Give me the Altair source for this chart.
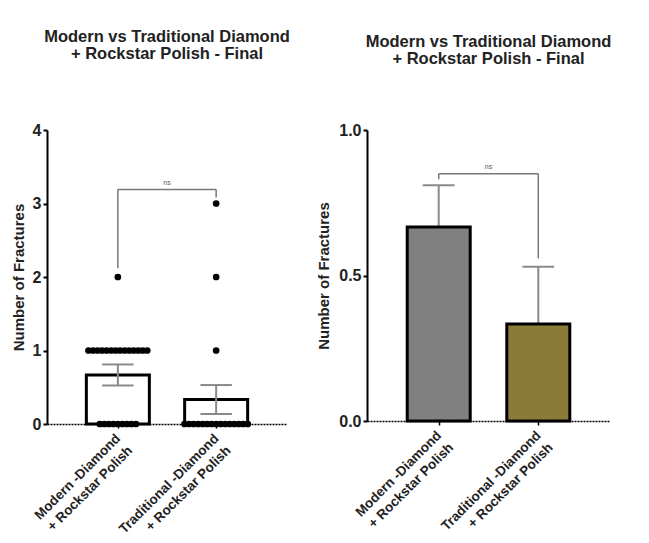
import altair as alt
import pandas as pd

# ---- data ----
group_line1 = ["Modern -Diamond", "Traditional -Diamond"]
group_line2 = ["+ Rockstar Polish", "+ Rockstar Polish"]
modern_counts = [0, 0, 0, 0, 0, 0, 0, 0, 0,
                 1, 1, 1, 1, 1, 1, 1, 1, 1, 1, 1, 1, 1, 1,
                 2]
trad_counts = [0, 0, 0, 0, 0, 0, 0, 0, 0, 0, 0, 0, 0, 0, 0,
               1, 2, 3]
means = [0.667, 0.333]
sems = [0.143, 0.197]
bar_colors_right = ["#808080", "#8a7b38"]
bracket_left = [3.19, 2.12, 3.08]     # top, left leg end, right leg end
bracket_right = [0.85, 0.831, 0.559]
sig_label = "ns"
title_lines = ["Modern vs Traditional Diamond", "+ Rockstar Polish - Final"]
y_title = "Number of Fractures"

# ---- derived tables ----
pos = [1, 2]
bars = pd.DataFrame({
    "pos": pos, "mean": means, "sem": sems, "color": bar_colors_right,
})
bars["lo"] = bars["mean"] - bars["sem"]
bars["hi"] = bars["mean"] + bars["sem"]
bars["cl"] = bars["pos"] - 0.16
bars["cr"] = bars["pos"] + 0.16

spacing = 0.046
rows = []
for p, counts in zip(pos, [modern_counts, trad_counts]):
    for v in sorted(set(counts)):
        k = counts.count(v)
        for i in range(k):
            rows.append({"x": p + (i - (k - 1) / 2) * spacing, "y": v})
dots = pd.DataFrame(rows)

label_expr = ("datum.value == 1 ? ['%s', '%s'] : ['%s', '%s']"
              % (group_line1[0], group_line2[0], group_line1[1], group_line2[1]))

FONT = "Liberation Sans"
XDOM = [0.33, 2.67]


def x_enc(field, axis=True):
    if axis:
        return alt.X(f"{field}:Q", scale=alt.Scale(domain=XDOM, nice=False, zero=False),
                     axis=alt.Axis(values=pos, labelExpr=label_expr, labelAngle=-45,
                                   labelAlign="right", labelBaseline="middle",
                                   labelFontSize=13.5, labelFontWeight="bold",
                                   labelLineHeight=17,
                                   labelColor="#222", labelPadding=8,
                                   domainDash=[2, 1], domainColor="#000", domainWidth=1.5,
                                   tickColor="#000", tickSize=4, tickWidth=1.5,
                                   grid=False, title=None, labelFont=FONT))
    return alt.X(f"{field}:Q", scale=alt.Scale(domain=XDOM, nice=False, zero=False))


def y_axis(values, fmt, dom, tpad):
    return alt.Scale(domain=dom, nice=False), alt.Axis(
        values=values, format=fmt, title=y_title, titleFont=FONT, titleFontSize=15,
        titleFontWeight="bold", titleColor="#222", titlePadding=tpad,
        labelFont=FONT, labelFontSize=16,
        labelFontWeight="bold", labelColor="#222", domainColor="#000", domainWidth=2,
        tickColor="#000", tickWidth=2, tickSize=4, labelPadding=2, grid=False)


def bracket_layers(b):
    top, l_end, r_end = b
    br = pd.DataFrame({"x": [1, 1, 2], "x2": [2, 1, 2],
                       "y": [top, top, top], "y2": [top, l_end, r_end]})
    rule = alt.Chart(br).mark_rule(color="#777", strokeWidth=1.5).encode(
        x=alt.X("x:Q", scale=alt.Scale(domain=XDOM, nice=False, zero=False)),
        x2="x2:Q", y="y:Q", y2="y2:Q")
    txt = alt.Chart(pd.DataFrame({"x": [1.5], "y": [top], "t": [sig_label]})).mark_text(
        dy=-7, fontSize=7, color="#555", font=FONT).encode(
        x=alt.X("x:Q", scale=alt.Scale(domain=XDOM, nice=False, zero=False)),
        y="y:Q", text="t:N")
    return rule, txt


def title(offset):
    return alt.TitleParams(title_lines, font=FONT, fontSize=16.5, fontWeight="bold",
                           color="#222", lineHeight=17, offset=offset, anchor="middle")


# ---- left panel ----
ysL, yaL = y_axis([0, 1, 2, 3, 4], "d", [0, 4], 6)
left_bar = alt.Chart(bars).mark_bar(size=63, fill="white", stroke="#000",
                                    strokeWidth=3).encode(
    x=x_enc("pos"), y=alt.Y("mean:Q", scale=ysL, axis=yaL))
left_err = alt.Chart(bars).mark_rule(color="#8a8a8a", strokeWidth=2).encode(
    x=x_enc("pos", False), y="lo:Q", y2="hi:Q")
left_cap_hi = alt.Chart(bars).mark_rule(color="#8a8a8a", strokeWidth=2).encode(
    x=x_enc("cl", False), x2="cr:Q", y="hi:Q")
left_cap_lo = alt.Chart(bars).mark_rule(color="#8a8a8a", strokeWidth=2).encode(
    x=x_enc("cl", False), x2="cr:Q", y="lo:Q")
left_dots = alt.Chart(dots).mark_circle(size=45, color="#000", opacity=1).encode(
    x=x_enc("x", False), y="y:Q")
lr, lt = bracket_layers(bracket_left)
left = alt.layer(left_bar, left_err, left_cap_hi, left_cap_lo, left_dots, lr, lt).properties(
    width=240, height=294, title=title(60))

# ---- right panel ----
ysR, yaR = y_axis([0, 0.5, 1.0], ".1f", [0, 1], 7)
right_err = alt.Chart(bars).mark_rule(color="#8a8a8a", strokeWidth=2).encode(
    x=x_enc("pos", False), y="mean:Q", y2="hi:Q")
right_cap = alt.Chart(bars).mark_rule(color="#8a8a8a", strokeWidth=2).encode(
    x=x_enc("cl", False), x2="cr:Q", y="hi:Q")
right_bar = alt.Chart(bars).mark_bar(size=63, stroke="#000", strokeWidth=3).encode(
    x=x_enc("pos"), y=alt.Y("mean:Q", scale=ysR, axis=yaR),
    fill=alt.Fill("color:N", scale=None))
rr, rt = bracket_layers(bracket_right)
right = alt.layer(right_err, right_cap, right_bar, rr, rt).properties(
    width=243, height=291, title=title(55))

chart = alt.hconcat(left, right, spacing=26).properties(
    padding={"top": 20, "left": 3, "right": 5, "bottom": 5},
    background="white",
).configure_view(stroke=None)

chart.save("out.html", embed_options={"renderer": "svg", "actions": False})
